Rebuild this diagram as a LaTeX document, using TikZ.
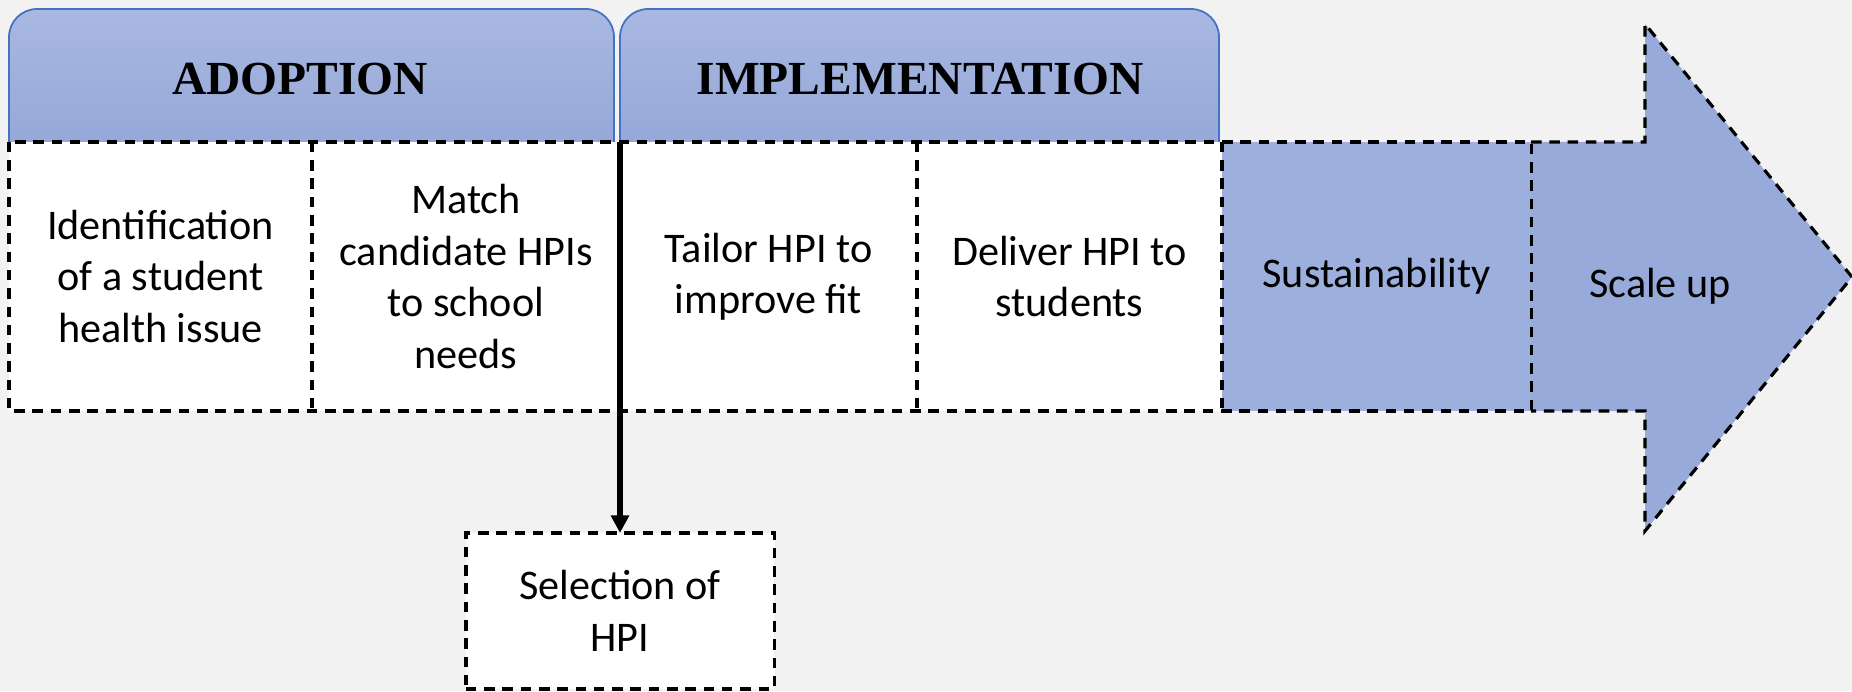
\documentclass[tikz,border=0pt]{standalone}
\usepackage{fontspec}
\setmainfont{Carlito}
\newfontfamily\headfont{Liberation Serif}
\usetikzlibrary{arrows.meta,positioning,calc}
\definecolor{canvas}{HTML}{F2F2F2}
\definecolor{tabtop}{HTML}{A9B8E1}
\definecolor{tabbot}{HTML}{95A8D8}
\definecolor{tabline}{HTML}{4472C4}
\definecolor{sustain}{HTML}{9DAFDC}
\definecolor{scaleup}{HTML}{97AAD9}

\begin{document}
\begin{tikzpicture}[x=0.01cm,y=-0.01cm,>={Triangle[length=5pt,width=5pt]},
    dashline/.style={draw=black,line width=0.9pt,dash pattern=on 3pt off 2.2pt},
    cell/.style={fill=white,align=center,inner sep=0pt,outer sep=0pt,
      minimum height=2.69cm,font=\fontsize{12}{14.6}\selectfont},
    tab/.style={draw=tabline,line width=0.5pt,top color=tabtop,bottom color=tabbot,rounded corners=0.28cm},
    tabtext/.style={font=\headfont\bfseries\fontsize{13.5}{16}\selectfont}]
    \useasboundingbox (0,0) rectangle (1852,691);
    \fill[canvas] (0,0) rectangle (1852,691);
    % phase tabs
    \draw[tab] (9,142) -- (9,9) -- (614,9) -- (614,142);
    \draw[tab] (620,142) -- (620,9) -- (1219,9) -- (1219,142);
    \node[tabtext] (adopt) at (300,79) {ADOPTION};
    \node[tabtext] (implem) at (920,79) {IMPLEMENTATION};
    % big arrow behind the last cells
    \draw[dashline,fill=scaleup] (1531,142) -- (1645,142) -- (1645,24) -- (1852,277)
      -- (1645,531) -- (1645,411) -- (1531,411);
    % steps along the row
    \foreach \a/\b/\nm/\lab in {9/312/ident/{Identification\\of a student\\health issue},
        312/620/match/{Match\\candidate HPIs\\to school\\needs},
        620/917/tailor/{Tailor HPI to\\improve fit},
        917/1222/deliver/{Deliver HPI to\\students}}{
      \node[cell,minimum width={(\b-\a)*0.01cm}] (\nm) at ({(\a+\b)/2},276.5) {\lab};}
    \node[cell,fill=sustain,minimum width=3.09cm] (sustain) at (1376.5,276.5) {Sustainability};
    \node[font=\fontsize{12}{14.6}\selectfont] (scale) at (1660,286) {Scale up};
    % dashed outline and dividers of the row
    \draw[dashline] (ident.north west) rectangle (sustain.south east);
    \foreach \nm in {ident,tailor,deliver}
      \draw[dashline] (\nm.north east) -- (\nm.south east);
    % selection step below
    \node[cell,dashline,minimum width=3.08cm,minimum height=1.56cm] (select) at (620,611) {Selection of\\HPI};
    \draw[->,line width=1.5pt] (match.north east) -- (select.north);
  \end{tikzpicture}
\end{document}
